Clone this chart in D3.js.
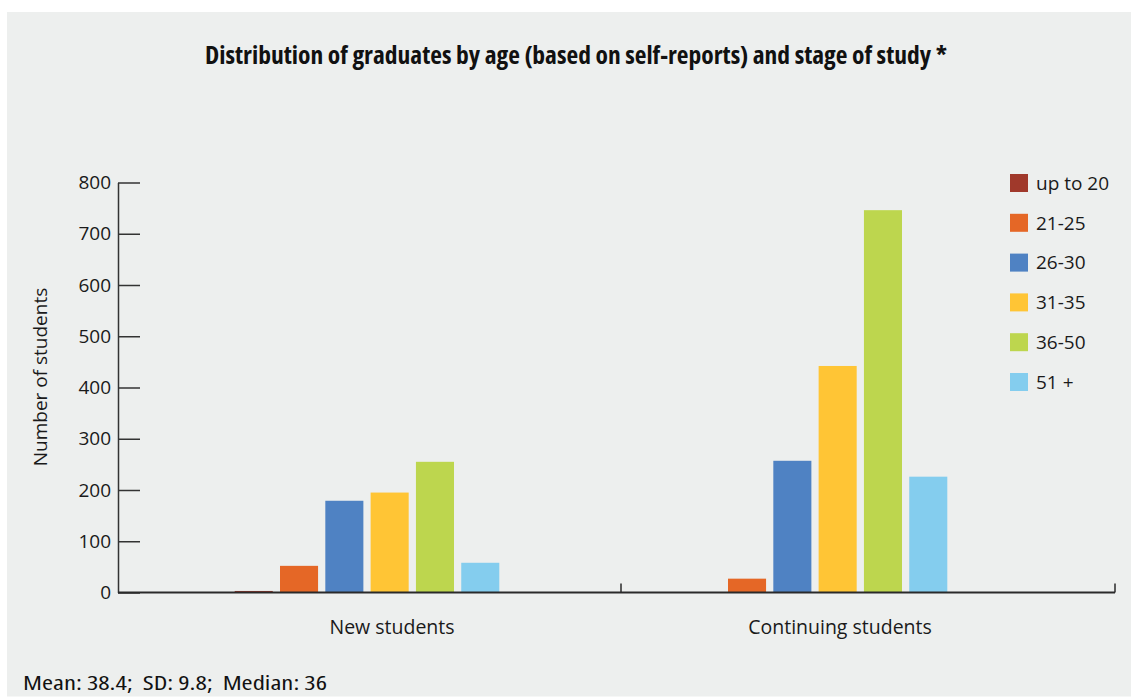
<!DOCTYPE html>
<html>
<head>
<meta charset="utf-8">
<script src="https://cdn.jsdelivr.net/npm/d3@7"></script>
<style>
  body { margin: 0; background: #fff; }
  svg { display: block; }
</style>
</head>
<body>
<script>
// data
const stages = ["New students", "Continuing students"];
const ageGroups = ["up to 20", "21-25", "26-30", "31-35", "36-50", "51 +"];
const newStudents = [3, 52, 179, 195, 255, 58];
const continuingStudents = [0, 27, 257, 442, 746, 226];
const yTicks = [0, 100, 200, 300, 400, 500, 600, 700, 800];
const colors = ["#a0392b", "#e56726", "#4f82c3", "#ffc535", "#bdd64e", "#84cdee"];

const W = 1131, H = 697;

const svg = d3.select("body").append("svg")
    .attr("width", W)
    .attr("height", H);

svg.append("rect")
    .attr("x", 7).attr("y", 12)
    .attr("width", W - 7).attr("height", H - 12.5)
    .attr("fill", "#edefee");

const rows = stages.map((s, i) => ({
    stage: s,
    values: (i === 0 ? newStudents : continuingStudents)
}));

const y = d3.scaleLinear()
    .domain([0, 800])
    .range([592.5, 182.5]);

const x0 = d3.scaleBand()
    .domain(stages)
    .range([143, 1039]);

const half = 132.3;
const x1 = d3.scaleBand()
    .domain(ageGroups)
    .range([x0.bandwidth() / 2 - half, x0.bandwidth() / 2 + half])
    .paddingInner(0.16);

const color = d3.scaleOrdinal().domain(ageGroups).range(colors);

// bars
const groups = svg.append("g")
    .selectAll("g")
    .data(rows)
    .enter()
    .append("g")
    .attr("transform", d => `translate(${x0(d.stage)},0)`);

groups.selectAll("rect")
    .data(d => d.values.map((v, i) => ({age: ageGroups[i], value: v})))
    .enter()
    .append("rect")
    .attr("x", d => x1(d.age))
    .attr("width", x1.bandwidth())
    .attr("y", d => y(d.value))
    .attr("height", d => y(0) - y(d.value))
    .attr("fill", d => color(d.age));

// y axis
const axisLeft = 118;
const yAxis = d3.axisLeft(y)
    .tickValues(yTicks)
    .tickSizeInner(-22)
    .tickSizeOuter(0)
    .tickPadding(7);

const yAxisGroup = svg.append("g")
    .attr("class", "axis y-axis")
    .attr("transform", `translate(${axisLeft},0)`)
    .call(yAxis);

yAxisGroup.select(".domain").attr("stroke", "#333").attr("stroke-width", 1.5);
yAxisGroup.selectAll(".tick line").attr("stroke", "#333").attr("stroke-width", 1.5);
yAxisGroup.selectAll(".tick text")
    .attr("fill", "#1a1a1a")
    .style("font-family", "'Open Sans', sans-serif")
    .style("font-size", "19px");

// x axis line with category separator ticks
const xAxisEnd = 1115;
const xAxisGroup = svg.append("g").attr("class", "axis x-axis");
xAxisGroup.append("line")
    .attr("x1", axisLeft).attr("x2", xAxisEnd)
    .attr("y1", y(0)).attr("y2", y(0))
    .attr("stroke", "#2a2a2a").attr("stroke-width", 2);
xAxisGroup.selectAll("line.sep")
    .data([621, xAxisEnd])
    .enter()
    .append("line")
    .attr("class", "sep")
    .attr("x1", d => d).attr("x2", d => d)
    .attr("y1", y(0)).attr("y2", y(0) - 9)
    .attr("stroke", "#2a2a2a").attr("stroke-width", 1.5);

xAxisGroup.selectAll("text")
    .data(stages)
    .enter()
    .append("text")
    .attr("x", d => x0(d) + x0.bandwidth() / 2 + 25)
    .attr("y", 634)
    .attr("text-anchor", "middle")
    .attr("fill", "#1a1a1a")
    .style("font-family", "'Open Sans', sans-serif")
    .style("font-size", "19.5px")
    .text(d => d);

// y axis title
svg.append("text")
    .attr("transform", "translate(47,377) rotate(-90)")
    .attr("text-anchor", "middle")
    .attr("fill", "#1a1a1a")
    .style("font-family", "'Open Sans', sans-serif")
    .style("font-size", "19px")
    .text("Number of students");

// legend
const legend = svg.append("g")
    .attr("transform", "translate(1010,174)")
    .selectAll("g")
    .data(ageGroups)
    .enter()
    .append("g")
    .attr("transform", (d, i) => `translate(0,${i * 39.8})`);

legend.append("rect")
    .attr("width", 18).attr("height", 18)
    .attr("fill", d => color(d));

legend.append("text")
    .attr("x", 26)
    .attr("y", 9)
    .attr("dy", "0.36em")
    .attr("fill", "#1a1a1a")
    .style("font-family", "'Open Sans', sans-serif")
    .style("font-size", "19px")
    .text(d => d);

// title and footnote in a condensed face
svg.append("text")
    .attr("x", 576)
    .attr("y", 64)
    .attr("text-anchor", "middle")
    .attr("fill", "#111")
    .style("font-family", "'Open Sans', sans-serif")
    .style("font-weight", "bold")
    .style("font-size", "25px")
    .style("font-stretch", "condensed")
    .attr("textLength", 742)
    .attr("lengthAdjust", "spacingAndGlyphs")
    .text("Distribution of graduates by age (based on self-reports) and stage of study *");

svg.append("text")
    .attr("x", 23)
    .attr("y", 690)
    .attr("textLength", 304)
    .attr("lengthAdjust", "spacingAndGlyphs")
    .attr("fill", "#111")
    .style("font-family", "'Open Sans', sans-serif")
    .style("font-size", "19.5px")
    .style("font-stretch", "condensed")
    .style("white-space", "pre")
    .text("Mean: 38.4;  SD: 9.8;  Median: 36");
</script>
</body>
</html>
